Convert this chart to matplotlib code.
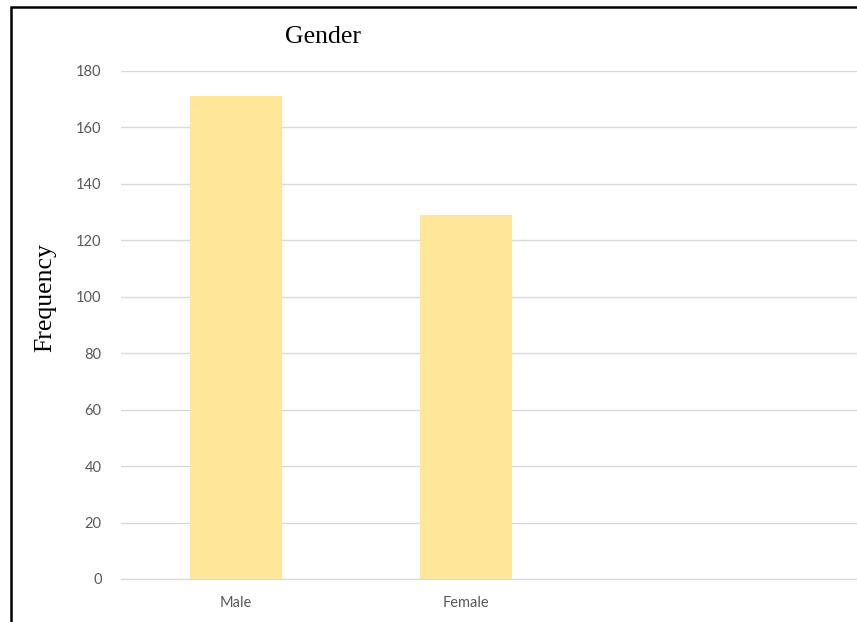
import matplotlib.pyplot as plt
from matplotlib.patches import Rectangle

# Data
categories = ['Male', 'Female']
frequency = [171, 129]
y_ticks = [0, 20, 40, 60, 80, 100, 120, 140, 160, 180]

W, H = 857, 622
fig = plt.figure(figsize=(W / 100, H / 100), dpi=100)

# plot area (pixel positions converted to figure fractions)
ax = fig.add_axes([121 / W, 43 / H, (W - 121) / W, (579 - 71) / H])

ax.bar(range(len(categories)), frequency, width=0.4, color='#FFE699', zorder=3)

ax.set_xlim(-0.5, -0.5 + (W - 121) / 230)
ax.set_ylim(0, 180)
ax.set_yticks(y_ticks)
ax.set_xticks(range(len(categories)))
ax.set_xticklabels(categories)

ax.grid(axis='y', color='#D9D9D9', linewidth=1, zorder=0)
ax.tick_params(length=0, colors='#595959', labelsize=10.5)
ax.tick_params(axis='y', pad=14)
ax.tick_params(axis='x', pad=12)
for lbl in ax.get_xticklabels() + ax.get_yticklabels():
    lbl.set_family(['Lato', 'DejaVu Sans'])
for s in ['top', 'right', 'left']:
    ax.spines[s].set_visible(False)
ax.spines['bottom'].set_color('#D9D9D9')
ax.spines['bottom'].set_zorder(4)

# Titles in serif font
fig.text(323 / W, 1 - 37 / H, 'Gender', ha='center', va='center',
         fontsize=18.5, family='Liberation Serif')
fig.text(45 / W, 1 - 298 / H, 'Frequency', ha='center', va='center',
         rotation=90, fontsize=18.5, family='Liberation Serif')

# outer chart border (cropped on right and bottom)
fig.patches.append(Rectangle((11 / W, -0.1), 1.2, 1 - 7 / H + 0.1,
                             transform=fig.transFigure, fill=False,
                             edgecolor='black', linewidth=1.8))

fig.savefig('out.png', dpi=100)
